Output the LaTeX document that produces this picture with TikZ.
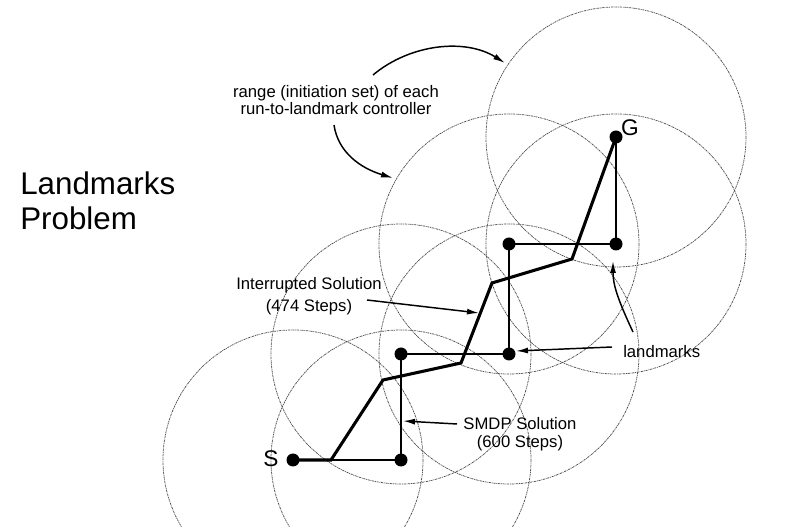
\documentclass[tikz,border=0pt]{standalone}
\usepackage{fontspec}
\setmainfont{Liberation Sans}
\usetikzlibrary{arrows.meta}
\begin{document}
\begin{tikzpicture}[x=0.75pt,y=-0.75pt,
  rangecircle/.style={draw=black!70, line width=0.55pt, dash pattern=on 1.6pt off 0.6pt on 0.6pt off 0.6pt},
  landmark/.style={circle, fill=black, inner sep=0pt, minimum size=9.75pt},
  smdp/.style={line width=1.3pt},
  interrupted/.style={line width=2.3pt, line join=miter},
  pointer/.style={line width=1.1pt, -{Latex[length=9pt,width=4.5pt]}},
  lbl/.style={font=\fontsize{12.5}{15}\selectfont, inner sep=0pt, align=center},
  big/.style={font=\fontsize{23.5}{27}\selectfont, inner sep=0pt, align=left},
  letter/.style={font=\fontsize{17}{20}\selectfont, inner sep=0pt}]
\useasboundingbox (0,0) rectangle (794,527);
\begin{scope}
\clip (0,0) rectangle (794,527);
% landmark positions
\coordinate (p1) at (293,460);
\coordinate (p2) at (401,460);
\coordinate (p3) at (401,354);
\coordinate (p4) at (509,354);
\coordinate (p5) at (509,244);
\coordinate (p6) at (616,244);
\coordinate (p7) at (616,137);
% ranges
\foreach \p in {p1,p2,p3,p4,p5,p6,p7}
  \draw[rangecircle] (\p) circle[radius=130];
\end{scope}
% SMDP solution
\draw[smdp] (p1) -- (p2) -- (p3) -- (p4) -- (p5) -- (p6) -- (p7);
% interrupted solution
\coordinate (i1) at (331,460);
\coordinate (i2) at (383,380);
\coordinate (i3) at (461,363);
\coordinate (i4) at (492,283);
\coordinate (i5) at (572,259);
\draw[interrupted] (p1) -- (i1) -- (i2) -- (i3) -- (i4) -- (i5) -- (p7);
% landmark dots
\node[landmark] (S) at (p1) {};
\node[landmark] (L2) at (p2) {};
\node[landmark] (L3) at (p3) {};
\node[landmark] (L4) at (p4) {};
\node[landmark] (L5) at (p5) {};
\node[landmark] (L6) at (p6) {};
\node[landmark] (G) at (p7) {};
\node[letter] (Slabel) at (271,459) {S};
\node[letter] (Glabel) at (630,128) {G};
% texts
\node[big, anchor=west] (title) at (20,201) {Landmarks\\[-0.5pt]Problem};
\node[lbl, font=\fontsize{12.5}{12.75}\selectfont] (range) at (336,100) {range (initiation set) of each\\run-to-landmark controller};
\node[lbl, font=\fontsize{12.5}{16.5}\selectfont] (interr) at (309,296) {Interrupted Solution\\(474 Steps)};
\node[lbl, font=\fontsize{12.5}{13.5}\selectfont] (smdplbl) at (520,434) {SMDP Solution\\(600 Steps)};
\node[lbl, anchor=base west] (lm) at (623,358) {landmarks};
% pointers
\coordinate (r1s) at (373,75);
\coordinate (r1e) at (505,63);
\coordinate (r2s) at (334,125);
\coordinate (r2e) at (393,178);
\draw[pointer] (r1s) .. controls (410,44) and (465,38) .. (r1e);
\draw[pointer] (r2s) .. controls (338,152) and (360,168) .. (r2e);
\coordinate (ia) at (367,300);
\coordinate (ib) at (479,313);
\draw[pointer] (ia) -- (ib);
\coordinate (sa) at (457,424);
\coordinate (sb) at (403,421);
\draw[pointer] (sa) -- (sb);
\coordinate (la) at (612,347);
\coordinate (lb) at (516,351);
\draw[pointer] (la) -- (lb);
\coordinate (lc) at (633,332);
\coordinate (ld) at (613,261);
\draw[pointer] (lc) .. controls (618,300) and (613,285) .. (ld);
\end{tikzpicture}
\end{document}
